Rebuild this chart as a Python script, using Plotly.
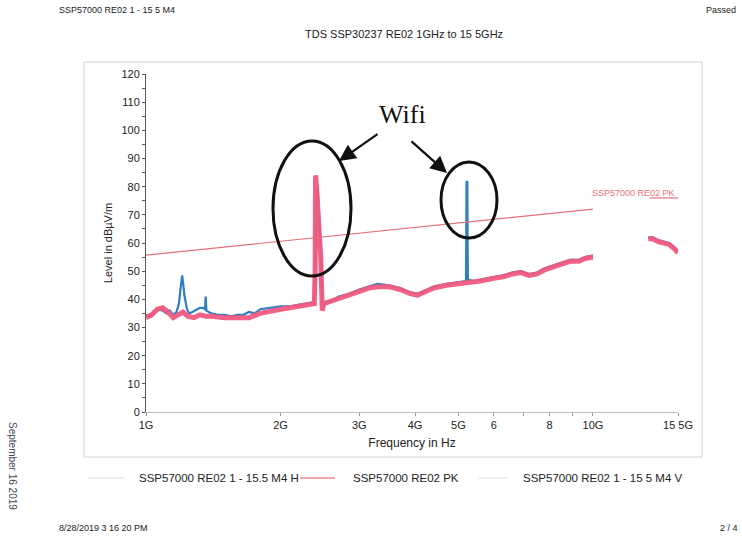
import plotly.graph_objects as go

# ---------------- data ----------------
# Horizontal polarisation (blue), frequency in GHz, level in dBµV/m
h_freq = [1.00, 1.02, 1.04, 1.06, 1.09, 1.11, 1.13, 1.15, 1.17, 1.185, 1.195, 1.20, 1.205, 1.21, 1.22,
          1.235, 1.25, 1.27, 1.30, 1.32, 1.34, 1.355, 1.36, 1.365, 1.40, 1.45, 1.50, 1.55, 1.60, 1.65,
          1.70, 1.75, 1.80, 1.90, 2.00, 2.10, 2.20, 2.30, 2.38, 2.40, 2.41, 2.42, 2.43, 2.44, 2.45,
          2.46, 2.47, 2.48, 2.50, 2.60, 2.70, 2.85, 3.00, 3.15, 3.30, 3.50, 3.70, 3.90, 4.05, 4.20,
          4.40, 4.70, 5.00, 5.20, 5.215, 5.225, 5.235, 5.25, 5.40, 5.60, 6.00, 6.30, 6.60, 6.90,
          7.20, 7.50, 7.80, 8.10, 8.50, 8.90, 9.30, 9.60, 10.0,
          None, 13.3, 13.6, 14.0, 14.4, 14.8, 15.2, 15.5]
h_level = [34.5, 34.0, 35.5, 36.5, 36.0, 35.0, 36.0, 34.5, 35.5, 38.5, 44.0, 47.5, 48.5, 46.0, 41.0,
           36.5, 35.0, 35.5, 36.5, 37.0, 37.0, 36.5, 41.0, 36.0, 35.0, 34.5, 34.5, 34.0, 34.5, 34.5,
           35.5, 35.0, 36.5, 37.0, 37.5, 37.5, 38.0, 38.5, 39.0, 60.0, 78.0, 80.0, 76.0, 70.0, 65.0,
           60.0, 50.0, 37.0, 38.5, 39.5, 41.0, 42.0, 43.5, 44.5, 45.5, 45.0, 44.0, 42.5, 42.0, 43.0,
           44.5, 45.5, 46.0, 46.5, 81.5, 82.0, 81.5, 47.0, 46.5, 47.0, 48.0, 48.5, 49.5, 50.0,
           49.0, 49.5, 51.0, 52.0, 53.0, 54.0, 54.0, 55.0, 55.5,
           None, 62.0, 62.0, 61.0, 60.5, 60.0, 58.5, 57.0]

# Vertical polarisation (pink)
v_freq = [1.00, 1.03, 1.06, 1.09, 1.12, 1.15, 1.18, 1.21, 1.24, 1.28, 1.32, 1.36, 1.40, 1.50, 1.60,
          1.70, 1.80, 1.90, 2.00, 2.10, 2.20, 2.30, 2.38, 2.39, 2.395, 2.40, 2.41, 2.42, 2.43, 2.44,
          2.45, 2.46, 2.47, 2.475, 2.48, 2.50, 2.60, 2.70, 2.85, 3.00, 3.15, 3.30, 3.50, 3.70, 3.90,
          4.05, 4.20, 4.40, 4.70, 5.00, 5.30, 5.60, 6.00, 6.30, 6.60, 6.90, 7.20, 7.50, 7.80, 8.10,
          8.50, 8.90, 9.30, 9.60, 10.0,
          None, 13.3, 13.6, 14.0, 14.4, 14.8, 15.2, 15.5]
v_level = [33.5, 34.5, 36.5, 37.0, 35.5, 33.5, 34.5, 35.5, 34.0, 33.5, 34.5, 34.0, 34.0, 33.5, 33.5,
           33.5, 35.0, 36.0, 36.5, 37.0, 37.5, 38.0, 38.5, 50.0, 84.0, 83.0, 78.0, 74.0, 72.0, 68.0,
           62.0, 55.0, 45.0, 38.0, 36.0, 38.5, 39.5, 40.5, 41.5, 43.0, 44.0, 44.5, 44.5, 43.5, 42.0,
           41.5, 42.5, 44.0, 45.0, 45.5, 46.0, 46.5, 47.5, 48.0, 49.0, 49.5, 48.5, 49.0, 50.5, 51.5,
           52.5, 53.5, 53.5, 54.5, 55.0,
           None, 61.5, 61.5, 60.5, 60.0, 59.5, 58.0, 56.5]

# Limit line (PK)
pk_freq = [1.0, 10.0, None, 13.4, 15.5]
pk_level = [55.7, 72.0, None, 76.0, 76.0]

x_tickvals = [1, 2, 3, 4, 5, 6, 8, 10, 15.5]
x_ticktext = ["1G", "2G", "3G", "4G", "5G", "6", "8", "10G", "15 5G"]
y_tickvals = list(range(0, 121, 10))

name_h = "SSP57000 RE02 1 - 15.5 M4 H"
name_pk = "SSP57000 RE02 PK"
name_v = "SSP57000 RE02 1 - 15 5 M4 V"

# ---------------- figure ----------------
W, H = 742, 540
L, R, T, B = 146, 678, 74, 412          # plot area in pixels
def px(x):
    return (x - L) / (R - L)
def py(y):
    return (B - y) / (B - T)

FONT = "Liberation Sans Narrow, Arial Narrow, Liberation Sans, Arial, sans-serif"
BLUE = "#2f7fc1"
PINK = "#f25a80"
RED = "#e8707a"

ghz = lambda arr: [None if v is None else v * 1e9 for v in arr]

fig = go.Figure()
fig.add_trace(go.Scatter(x=ghz(h_freq), y=h_level, mode="lines", name=name_h,
                         line=dict(color=BLUE, width=2.2)))
fig.add_trace(go.Scatter(x=ghz(v_freq), y=v_level, mode="lines", name=name_v,
                         line=dict(color=PINK, width=5), opacity=0.95))
fig.add_trace(go.Scatter(x=ghz(pk_freq), y=pk_level, mode="lines", name=name_pk,
                         line=dict(color=RED, width=1.2)))

fig.update_layout(
    width=W, height=H,
    margin=dict(l=L, r=W - R, t=T, b=H - B, pad=0),
    paper_bgcolor="white", plot_bgcolor="white",
    font=dict(family=FONT, size=11, color="#222"),
    showlegend=False,
    xaxis=dict(type="log", range=[9, 10.1903], tickvals=[v * 1e9 for v in x_tickvals],
               ticktext=x_ticktext, showgrid=False, zeroline=False,
               showline=True, linecolor="#bbbbbb", linewidth=1,
               ticks="outside", ticklen=3, tickcolor="#999",
               minor=dict(tickvals=[7e9, 9e9], ticks="outside", ticklen=3, tickcolor="#999"),
               title=dict(text="Frequency in Hz", font=dict(size=12), standoff=8),
               tickfont=dict(size=11)),
    yaxis=dict(range=[0, 120], tickvals=y_tickvals, showgrid=False, zeroline=False,
               showline=True, linecolor="#555", linewidth=1,
               ticks="outside", ticklen=3, tickcolor="#555",
               minor=dict(dtick=5, ticks="outside", ticklen=3, tickcolor="#555"),
               title=dict(text="Level in dBµV/m", font=dict(size=11), standoff=6),
               tickfont=dict(size=11)),
)

shapes = []
# outer chart frame
shapes.append(dict(type="rect", xref="paper", yref="paper",
                   x0=px(84), x1=px(702), y0=py(457), y1=py(62),
                   line=dict(color="#d0d0d0", width=1)))
# legend samples (faint as in the scan)
legend_items = [(name_h, 88, 124, "#d3d8de", 137),
                (name_pk, 300, 335, "#e0505c", 351),
                (name_v, 478, 508, "#e3e3e3", 521)]
for _, x0, x1, col, _tx in legend_items:
    shapes.append(dict(type="line", xref="paper", yref="paper",
                       x0=px(x0), x1=px(x1), y0=py(478), y1=py(478),
                       line=dict(color=col, width=1)))
# hand drawn ellipses
shapes.append(dict(type="circle", xref="paper", yref="paper",
                   x0=px(273), x1=px(351), y0=py(276), y1=py(141),
                   line=dict(color="#111", width=3)))
shapes.append(dict(type="circle", xref="paper", yref="paper",
                   x0=px(441), x1=px(497), y0=py(238), y1=py(162),
                   line=dict(color="#111", width=3)))
fig.update_layout(shapes=shapes)

ann = []
for name, _x0, _x1, _col, tx in legend_items:
    ann.append(dict(text=name, xref="paper", yref="paper", x=px(tx), y=py(478),
                    xanchor="left", yanchor="middle", showarrow=False,
                    font=dict(size=11.5, color="#222")))
# header / footer texts
ann.append(dict(text="SSP57000 RE02 1 - 15 5 M4", xref="paper", yref="paper",
                x=px(57), y=py(10), xanchor="left", yanchor="middle", showarrow=False,
                font=dict(size=9, color="#222")))
ann.append(dict(text="Passed", xref="paper", yref="paper",
                x=px(738), y=py(10), xanchor="right", yanchor="middle", showarrow=False,
                font=dict(size=9, color="#222")))
ann.append(dict(text="TDS SSP30237 RE02 1GHz to 15 5GHz", xref="paper", yref="paper",
                x=px(404), y=py(34), xanchor="center", yanchor="middle", showarrow=False,
                font=dict(size=11, color="#222")))
ann.append(dict(text="8/28/2019 3 16 20 PM", xref="paper", yref="paper",
                x=px(57), y=py(528), xanchor="left", yanchor="middle", showarrow=False,
                font=dict(size=9, color="#222")))
ann.append(dict(text="2 / 4", xref="paper", yref="paper",
                x=px(740), y=py(528), xanchor="right", yanchor="middle", showarrow=False,
                font=dict(size=9, color="#222")))
ann.append(dict(text="September 16 2019", xref="paper", yref="paper",
                x=px(13), y=py(466), xanchor="center", yanchor="middle", showarrow=False,
                textangle=90, font=dict(size=10, color="#445")))
# limit line label
ann.append(dict(text="SSP57000 RE02 PK", xref="paper", yref="paper",
                x=px(677), y=py(193), xanchor="right", yanchor="middle", showarrow=False,
                font=dict(size=9, color=RED)))
# hand annotations
ann.append(dict(text="Wifi", xref="paper", yref="paper",
                x=px(402), y=py(115), xanchor="center", yanchor="middle", showarrow=False,
                font=dict(size=26, color="#111", family="Liberation Serif, DejaVu Serif, serif")))
ann.append(dict(text="", xref="paper", yref="paper", x=px(339), y=py(161),
                ax=379 - 339, ay=133 - 161, showarrow=True, arrowhead=2, arrowsize=1.5,
                arrowwidth=2.2, arrowcolor="#111"))
ann.append(dict(text="", xref="paper", yref="paper", x=px(447), y=py(173),
                ax=410 - 447, ay=140 - 173, showarrow=True, arrowhead=2, arrowsize=1.5,
                arrowwidth=2.2, arrowcolor="#111"))
fig.update_layout(annotations=ann)

fig.write_html("out.html")
